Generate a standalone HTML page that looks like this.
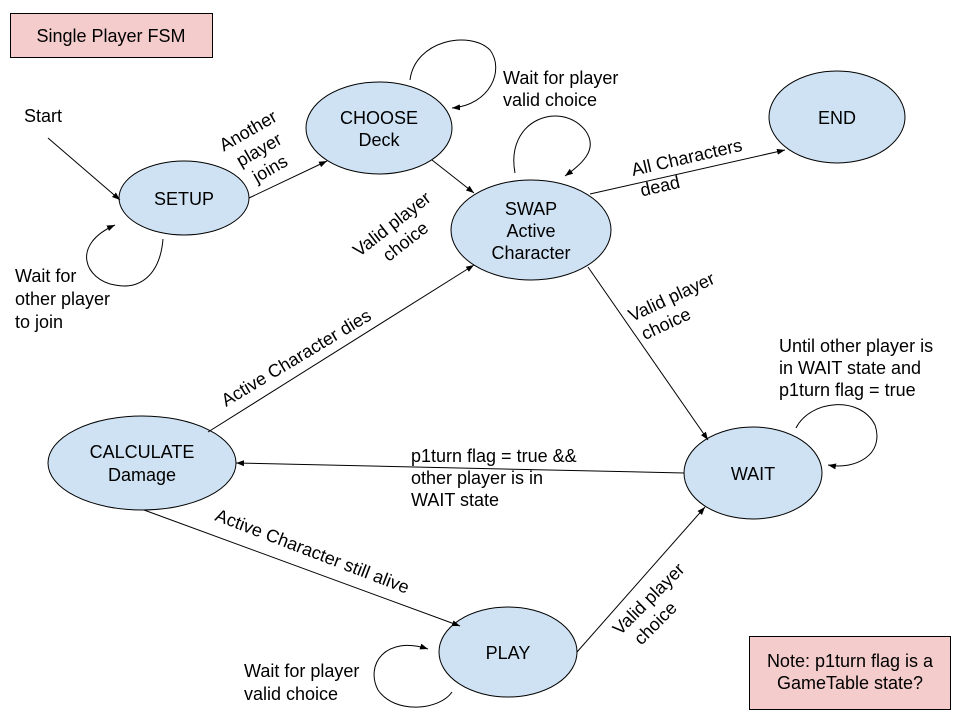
<!DOCTYPE html>
<html><head><meta charset="utf-8"><style>
body{margin:0;background:#fff}
svg{display:block;font-family:"Liberation Sans",Arial,sans-serif;font-size:18px;fill:#000}
</style></head><body>
<svg width="960" height="720" viewBox="0 0 960 720" xmlns="http://www.w3.org/2000/svg">
<defs><marker id="a" markerWidth="8" markerHeight="6" refX="8" refY="3" orient="auto" markerUnits="userSpaceOnUse"><path d="M0,0 L8,3 L0,6 z" fill="#000"/></marker></defs>
<rect x="0" y="0" width="960" height="720" fill="#fff"/>
<rect x="10.5" y="13.5" width="202" height="44" fill="#f4cccc" stroke="#000"/>
<text x="111" y="42" text-anchor="middle">Single Player FSM</text>
<rect x="749.5" y="636.5" width="201" height="73" fill="#f4cccc" stroke="#000"/>
<text x="850" y="667" text-anchor="middle">Note: p1turn flag is a</text>
<text x="850" y="689" text-anchor="middle">GameTable state?</text>
<g fill="#cfe2f3" stroke="#000" stroke-width="1">
<ellipse cx="184" cy="198" rx="65" ry="37"/>
<ellipse cx="379" cy="128" rx="73" ry="46"/>
<ellipse cx="531" cy="230" rx="80" ry="50"/>
<ellipse cx="837" cy="117" rx="68" ry="46"/>
<ellipse cx="142" cy="463" rx="94" ry="47"/>
<ellipse cx="753" cy="473" rx="69" ry="46"/>
<ellipse cx="508" cy="652" rx="69" ry="45"/>
</g>
<g text-anchor="middle">
<text x="184" y="205">SETUP</text>
<text x="379" y="124">CHOOSE</text><text x="379" y="146">Deck</text>
<text x="531" y="215">SWAP</text><text x="531" y="237">Active</text><text x="531" y="259">Character</text>
<text x="837" y="124">END</text>
<text x="142" y="458">CALCULATE</text><text x="142" y="481">Damage</text>
<text x="753" y="480">WAIT</text>
<text x="508" y="659">PLAY</text>
</g>
<g stroke="#000" fill="none" stroke-width="1" marker-end="url(#a)">
<line x1="48" y1="138" x2="120" y2="200"/>
<line x1="249" y1="198" x2="327" y2="161"/>
<path d="M163,239 C160,275 140,290 115,285 C85,280 70,245 115,225"/>
<line x1="432" y1="160" x2="474" y2="193"/>
<path d="M410,80 C415,40 470,30 490,50 C505,70 490,105 452,108"/>
<path d="M515,173 C505,120 560,100 585,130 C600,150 580,165 565,176"/>
<line x1="590" y1="194" x2="785" y2="150"/>
<line x1="588" y1="267" x2="708" y2="440"/>
<line x1="684" y1="473" x2="236" y2="463"/>
<line x1="208" y1="432" x2="474" y2="265"/>
<line x1="144" y1="510" x2="460" y2="626"/>
<line x1="577" y1="652" x2="705" y2="507"/>
<path d="M796,428 C810,400 860,395 875,425 C885,455 855,470 828,465"/>
<path d="M452,692 C440,710 395,715 378,690 C365,665 385,635 428,649"/>
</g>
<text x="24" y="122">Start</text>
<text x="15" y="282">Wait for</text><text x="15" y="305">other player</text><text x="15" y="328">to join</text>
<g transform="translate(262,155) rotate(-30)" text-anchor="middle"><text x="0" y="-22">Another</text><text x="0" y="0">player</text><text x="0" y="22">joins</text></g>
<g transform="translate(398,232) rotate(-38)" text-anchor="middle"><text x="0" y="-4">Valid player</text><text x="0" y="18">choice</text></g>
<text x="503" y="84">Wait for player</text><text x="503" y="106">valid choice</text>
<g transform="translate(633,176) rotate(-13)"><text x="0" y="0">All Characters</text><text x="4" y="22">dead</text></g>
<g transform="translate(632,322) rotate(-25)"><text x="0" y="0">Valid player</text><text x="4" y="22">choice</text></g>
<text x="779" y="352">Until other player is</text><text x="779" y="374">in WAIT state and</text><text x="779" y="396">p1turn flag = true</text>
<text transform="translate(226,407) rotate(-31)">Active Character dies</text>
<text x="411" y="462">p1turn flag = true &amp;&amp;</text><text x="411" y="484">other player is in</text><text x="411" y="506">WAIT state</text>
<text transform="translate(214,520) rotate(21)">Active Character still alive</text>
<g transform="translate(620,636) rotate(-45)"><text x="0" y="0">Valid player</text><text x="8" y="22">choice</text></g>
<text x="244" y="677">Wait for player</text><text x="244" y="700">valid choice</text>
</svg>
</body></html>
